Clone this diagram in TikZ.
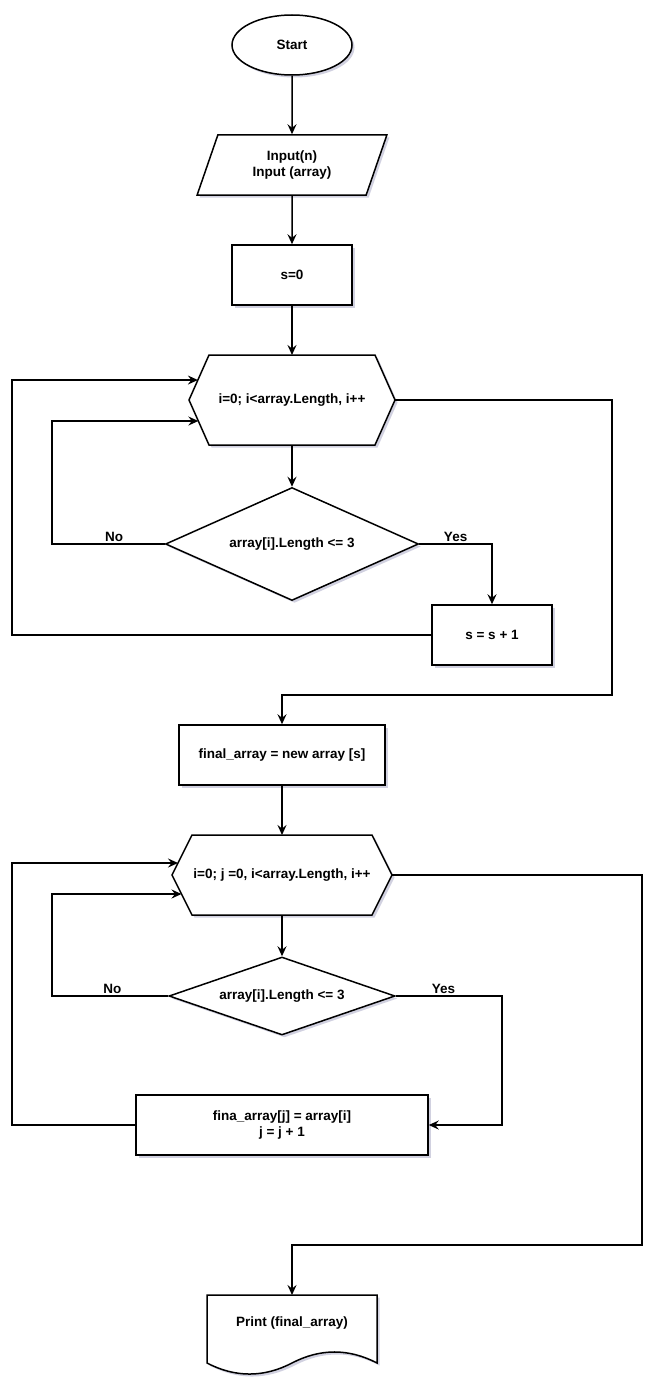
\documentclass[tikz,border=0pt]{standalone}
\usepackage{fontspec}
\setmainfont{Liberation Sans}
\usetikzlibrary{arrows.meta,calc,shapes.geometric,shadows}

% hexagon outline round a frame node
\newcommand{\hexframe}[1]{%
  \coordinate (#1-nw) at ($(#1.north west)+(20,0)$);
  \coordinate (#1-ne) at ($(#1.north east)+(-20,0)$);
  \coordinate (#1-se) at ($(#1.south east)+(-20,0)$);
  \coordinate (#1-sw) at ($(#1.south west)+(20,0)$);
  \draw[boxline] (#1.west) -- (#1-nw) -- (#1-ne) -- (#1.east) -- (#1-se) -- (#1-sw) -- cycle;}

\begin{document}
\begin{tikzpicture}[x=1pt,y=-1pt,
    every node/.style={font=\bfseries\fontsize{13.5}{16.5}\selectfont},
    boxshadow/.style={drop shadow={shadow xshift=2.5pt,shadow yshift=-2.5pt,opacity=.3,fill=gray!80!blue}},
    boxline/.style={draw=black,line width=1.5pt,fill=white,boxshadow},
    procbox/.style={boxline,rectangle,minimum width=120,minimum height=60},
    termbox/.style={boxline,ellipse,minimum width=120,minimum height=60},
    iobox/.style={boxline,trapezium,trapezium left angle=71.57,trapezium right angle=108.43,
      trapezium stretches=true,minimum width=190,minimum height=60,align=center},
    frame/.style={rectangle,inner sep=0,outer sep=0},
    testbox/.style={boxline,diamond,inner sep=0},
    flow/.style={line width=1.5pt,-{Stealth[length=10pt,width=9pt,inset=3.5pt]}},
    lbl/.style={above,inner sep=2pt}]
    \useasboundingbox (0,0) rectangle (668,1394);

    % first loop: count short strings
    \node[termbox] (start) at (292,45) {Start};
    \node[iobox] (input) at (292,165) {Input(n)\\Input (array)};
    \node[procbox] (init) at (292,275) {s=0};
    \node[frame,minimum width=206,minimum height=90] (loopA) at (292,400) {};
    \hexframe{loopA}
    \node (loopAtx) at (loopA) {i=0; i<array.Length, i++};
    \node[testbox,shape aspect=2.24,minimum width=253,minimum height=113] (condA) at (292,544) {array[i].Length <= 3};
    \node[procbox] (incA) at (492,635) {s = s + 1};

    % second loop: copy them
    \node[procbox,minimum width=206] (alloc) at (282,755) {final\_array = new array [s]};
    \node[frame,minimum width=220,minimum height=80] (loopB) at (282,875) {};
    \hexframe{loopB}
    \node (loopBtx) at (loopB) {i=0; j =0, i<array.Length, i++};
    \node[testbox,shape aspect=2.9,minimum width=226,minimum height=78] (condB) at (282,996) {array[i].Length <= 3};
    \node[procbox,minimum width=292,align=center] (copyB) at (282,1125) {fina\_array[j] = array[i]\\j = j + 1};

    % document shape for the output
    \node[frame,minimum width=170,minimum height=56,anchor=north] (print) at (292,1295) {};
    \draw[boxline] (print.north west) -- (print.north east) -- ($(print.north east)+(0,68)$)
      .. controls ($(print.north east)+(-28.3,53.3)$) and ($(print.north)+(28.3,53.3)$) .. ($(print.north)+(0,68)$)
      .. controls ($(print.north)+(-28.3,82.7)$) and ($(print.north west)+(28.3,82.7)$) .. ($(print.north west)+(0,68)$)
      -- cycle;
    \node (printtx) at (print) {Print (final\_array)};

    \coordinate (inA1) at ($(loopA.west)!.444!(loopA-nw)$);
    \coordinate (inA2) at ($(loopA.west)!.467!(loopA-sw)$);
    \coordinate (inB1) at ($(loopB.west)!.3!(loopB-nw)$);
    \coordinate (inB2) at ($(loopB.west)!.475!(loopB-sw)$);
    \coordinate (noA) at (52,544);
    \coordinate (backA) at (12,635);
    \coordinate (exitA) at (612,695);
    \coordinate (noB) at (52,996);
    \coordinate (yesB) at (502,996);
    \coordinate (backB) at (12,1125);
    \coordinate (exitB) at (642,1245);

    \draw[flow] (start.south) -- (input.north);
    \draw[flow] (input.south) -- (init.north);
    \draw[flow] (init.south) -- (loopA.north);
    \draw[flow] (loopA.south) -- (condA.north);
    \draw[flow] (condA.east) -| node[lbl,pos=.25] {Yes} (incA.north);
    \draw[flow] (condA.west) -- node[lbl,pos=.45] {No} (noA) |- (inA2);
    \draw[flow] (incA.west) -- (backA) |- (inA1);
    \draw[flow] (loopA.east) -| (exitA) -| (alloc.north);

    \draw[flow] (alloc.south) -- (loopB.north);
    \draw[flow] (loopB.south) -- (condB.north);
    \draw[flow] (condB.east) -- node[lbl,pos=.45] {Yes} (yesB) |- (copyB.east);
    \draw[flow] (condB.west) -- node[lbl,pos=.48] {No} (noB) |- (inB2);
    \draw[flow] (copyB.west) -- (backB) |- (inB1);
    \draw[flow] (loopB.east) -| (exitB) -| (print.north);
\end{tikzpicture}
\end{document}
